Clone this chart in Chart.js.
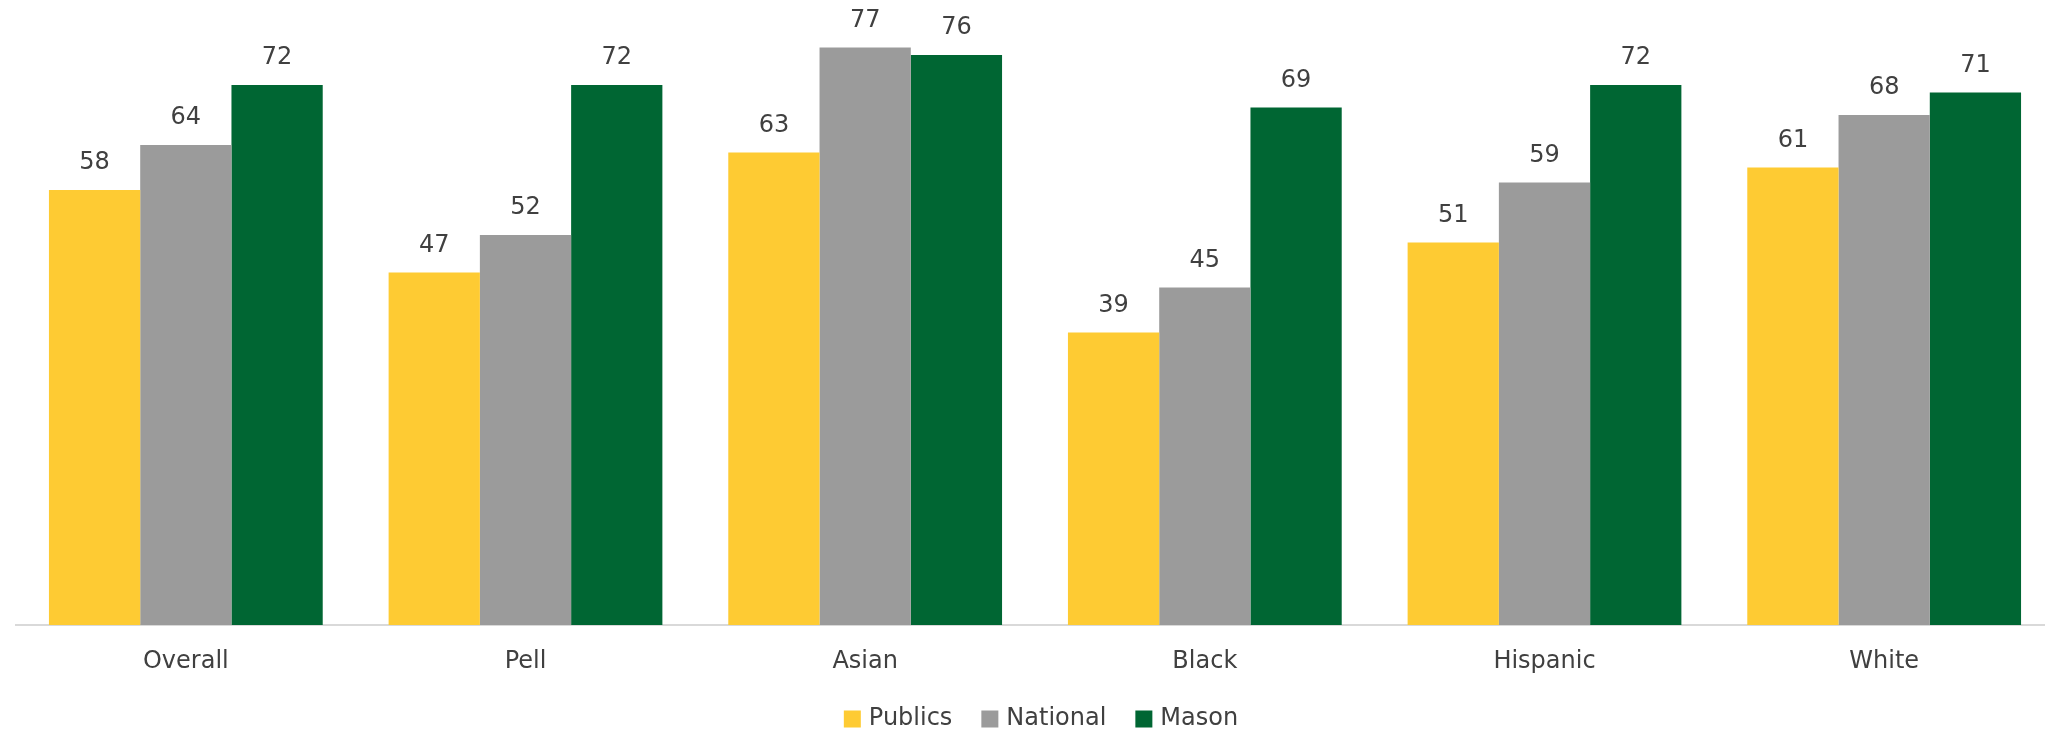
<!DOCTYPE html>
<html>
<head>
<meta charset="utf-8">
<script src="https://cdn.jsdelivr.net/npm/chart.js@4/dist/chart.umd.min.js"></script>
<style>
  html, body { margin: 0; padding: 0; overflow: hidden; background: #fff; }
  #wrap { position: absolute; left: 0; top: 0; width: 2060px; height: 731px; }
</style>
</head>
<body>
<div id="wrap"><canvas id="chart"></canvas></div>
<script>
// ========= data =========
const categories = ['Overall', 'Pell', 'Asian', 'Black', 'Hispanic', 'White'];
const publics  = [58, 47, 63, 39, 51, 61];
const national = [64, 52, 77, 45, 59, 68];
const mason    = [72, 72, 76, 69, 72, 71];
const seriesNames = ['Publics', 'National', 'Mason'];

const FONT = '"DejaVu Sans", sans-serif';
const TEXT = '#404040';

// numbers above each bar
const valueLabels = {
  id: 'valueLabels',
  afterDatasetsDraw(chart) {
    const ctx = chart.ctx;
    ctx.save();
    ctx.font = '24px ' + FONT;
    ctx.fillStyle = TEXT;
    ctx.textAlign = 'center';
    ctx.textBaseline = 'middle';
    chart.data.datasets.forEach((ds, i) => {
      chart.getDatasetMeta(i).data.forEach((bar, j) => {
        ctx.fillText(String(ds.data[j]), bar.x, bar.y - 27);
      });
    });
    ctx.restore();
  }
};

// legend drawn under the axis labels
const bottomLegend = {
  id: 'bottomLegend',
  afterDraw(chart) {
    const ctx = chart.ctx;
    const box = 17, gapText = 8, gapItem = 29;
    ctx.save();
    ctx.font = '24px ' + FONT;
    ctx.textBaseline = 'middle';
    const items = chart.data.datasets.map(ds => ({
      label: ds.label, color: ds.backgroundColor, w: ctx.measureText(ds.label).width
    }));
    let total = 0;
    items.forEach((it, i) => { total += box + gapText + it.w + (i ? gapItem : 0); });
    let x = 1041 - total / 2;
    const y = 719;
    items.forEach(it => {
      ctx.fillStyle = it.color;
      ctx.fillRect(x, y - box / 2, box, box);
      ctx.fillStyle = TEXT;
      ctx.fillText(it.label, x + box + gapText, y);
      x += box + gapText + it.w + gapItem;
    });
    ctx.restore();
  }
};

new Chart(document.getElementById('chart'), {
  type: 'bar',
  data: {
    labels: categories,
    datasets: [
      { label: seriesNames[0], data: publics,  backgroundColor: '#FECB33' },
      { label: seriesNames[1], data: national, backgroundColor: '#9B9B9B' },
      { label: seriesNames[2], data: mason,    backgroundColor: '#006633' }
    ]
  },
  options: {
    responsive: true,
    maintainAspectRatio: false,
    animation: false,
    categoryPercentage: 0.806,
    barPercentage: 1.0,
    layout: { padding: { left: 16, right: 6, top: 25, bottom: 0 } },
    plugins: {
      legend: { display: false },
      tooltip: { enabled: false }
    },
    scales: {
      x: {
        grid: { display: false, drawTicks: false },
        border: { display: true, color: '#D9D9D9', width: 2 },
        ticks: { font: { family: FONT, size: 24 }, color: TEXT, padding: 22, maxRotation: 0 },
        afterFit: (scale) => { scale.height = 106; }
      },
      y: {
        display: false,
        min: 0,
        max: 80
      }
    }
  },
  plugins: [valueLabels, bottomLegend]
});
</script>
</body>
</html>
